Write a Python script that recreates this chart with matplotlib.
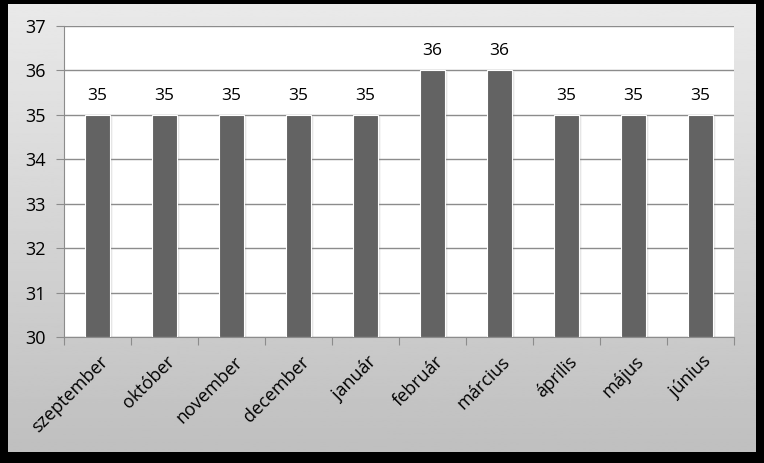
import matplotlib.pyplot as plt
import numpy as np
from matplotlib.transforms import ScaledTranslation

months = ["szeptember", "október", "november", "december", "január",
          "február", "március", "április", "május", "június"]
values = [35, 35, 35, 35, 35, 36, 36, 35, 35, 35]
y_ticks = [30, 31, 32, 33, 34, 35, 36, 37]

BAR = "#636363"
GRID = "#8c8c8c"

plt.rcParams["font.family"] = ["Open Sans", "DejaVu Sans"]

W, H = 764, 463
fig = plt.figure(figsize=(W / 100, H / 100), dpi=100, facecolor="black")

# grey gradient panel inside the black frame
bg = fig.add_axes([8 / W, 11 / H, 748 / W, 448 / H])
grad = np.linspace(0.915, 0.75, 256).reshape(-1, 1)
bg.imshow(grad, cmap="gray", vmin=0, vmax=1, aspect="auto", extent=[0, 1, 0, 1])
bg.set_axis_off()

ax = fig.add_axes([64 / W, (H - 337) / H, 670 / W, 311 / H])
ax.set_facecolor("white")
x = np.arange(len(months))
width = 0.37

# soft shadow to the right of each bar
px = 1 / 100
for k, a in [(2, 0.22), (4, 0.14), (6, 0.07)]:
    off = ScaledTranslation(k * px * 0.6, -k * px * 0.3, fig.dpi_scale_trans)
    ax.bar(x, [v - 30 for v in values], width, bottom=30, color="#808080",
           alpha=a, transform=ax.transData + off, zorder=2, linewidth=0)
ax.bar(x, [v - 30 for v in values], width, bottom=30, color=BAR,
       edgecolor="white", linewidth=0.8, zorder=3)

for xi, v in zip(x, values):
    ax.annotate(f"{v}", (xi, v), xytext=(0, 8), textcoords="offset points",
                ha="center", va="bottom", fontsize=12.5, color="black", zorder=4)

ax.set_ylim(30, 37)
ax.set_xlim(-0.5, len(months) - 0.5)
ax.set_yticks(y_ticks)
ax.set_yticklabels([str(t) for t in y_ticks], fontsize=13)
ax.yaxis.grid(True, color=GRID, linewidth=1)
ax.set_axisbelow(True)

ax.set_xticks(np.arange(len(months) + 1) - 0.5)
ax.set_xticklabels([])
ax.set_xticks(x, minor=True)
ax.set_xticklabels(months, minor=True, rotation=45, ha="right", va="center",
                   rotation_mode="anchor", fontsize=13)
ax.tick_params(axis="x", which="minor", length=0, pad=16)
ax.tick_params(axis="x", which="major", length=6, color=GRID)
ax.tick_params(axis="y", length=6, color=GRID, pad=7)
shift = ScaledTranslation(8 / 100, 0, fig.dpi_scale_trans)
for lab in ax.get_xticklabels(minor=True):
    lab.set_transform(lab.get_transform() + shift)

for side in ["top", "right"]:
    ax.spines[side].set_visible(False)
for side in ["left", "bottom"]:
    ax.spines[side].set_color(GRID)

fig.savefig("out.png", dpi=100, facecolor="black")
